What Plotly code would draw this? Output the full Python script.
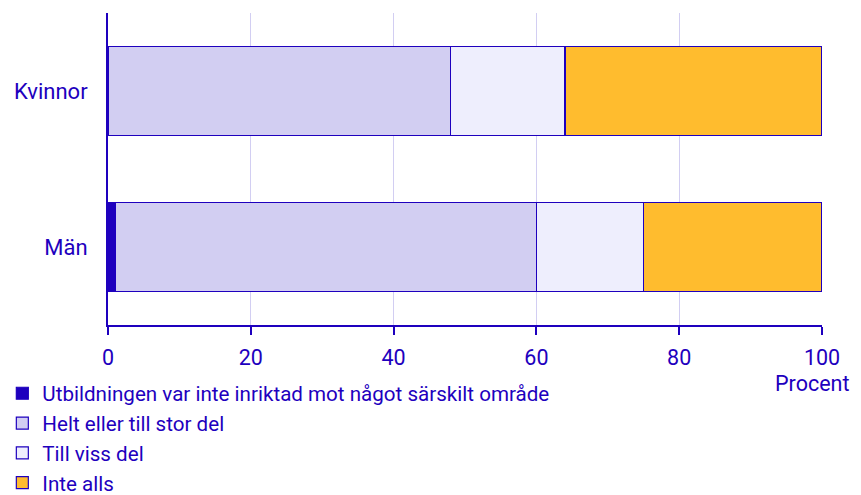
import plotly.graph_objects as go

categories = ["Kvinnor", "Män"]
series_names = [
    "Utbildningen var inte inriktad mot något särskilt område",
    "Helt eller till stor del",
    "Till viss del",
    "Inte alls",
]
utbildningen = [0, 1]
helt = [48, 59]
viss = [16, 15]
inte = [36, 25]
colors = ["#1E00BE", "#D2CEF2", "#EEEEFD", "#FFBC2E"]
x_ticks = [0, 20, 40, 60, 80, 100]

BLUE = "#1E00BE"
fig = go.Figure()
for name, vals, col in zip(series_names, [utbildningen, helt, viss, inte], colors):
    fig.add_trace(go.Bar(
        y=categories, x=vals, name=name, orientation="h",
        marker=dict(color=col, line=dict(color=BLUE, width=1.2)),
        width=0.57, legendgroup=name,
    ))

# the page body has an 8px margin, so the figure is drawn 8px in from the top-left
fig.update_layout(
    barmode="stack",
    width=853, height=487,
    margin=dict(l=100, r=39, t=5, b=170, autoexpand=False),
    plot_bgcolor="white", paper_bgcolor="white",
    font=dict(family="Roboto", size=22, color=BLUE),
    showlegend=True,
    legend=dict(
        x=-0.148, y=-0.155,
        xanchor="left", yanchor="top", orientation="v",
        traceorder="grouped", tracegroupgap=0,
        font=dict(size=20.6, color=BLUE), itemwidth=30,
        bgcolor="rgba(0,0,0,0)",
    ),
    xaxis=dict(
        range=[0, 100], tickvals=x_ticks, showgrid=True,
        gridcolor="#D2CEF2", gridwidth=1,
        showline=True, linecolor=BLUE, linewidth=2,
        ticks="outside", ticklen=8, tickcolor=BLUE, tickwidth=2,
        zeroline=False, ticklabelstandoff=4,
        tickfont=dict(size=21.5),
    ),
    yaxis=dict(
        autorange="reversed", showline=True, linecolor=BLUE, linewidth=2,
        showgrid=False, ticks="", ticklabelstandoff=14,
    ),
    annotations=[dict(
        text="Procent", xref="paper", yref="paper", x=0.986, y=-0.141,
        xanchor="center", yanchor="top", showarrow=False,
        font=dict(size=21.5, color=BLUE),
    )],
)

fig.write_html("out.html")
